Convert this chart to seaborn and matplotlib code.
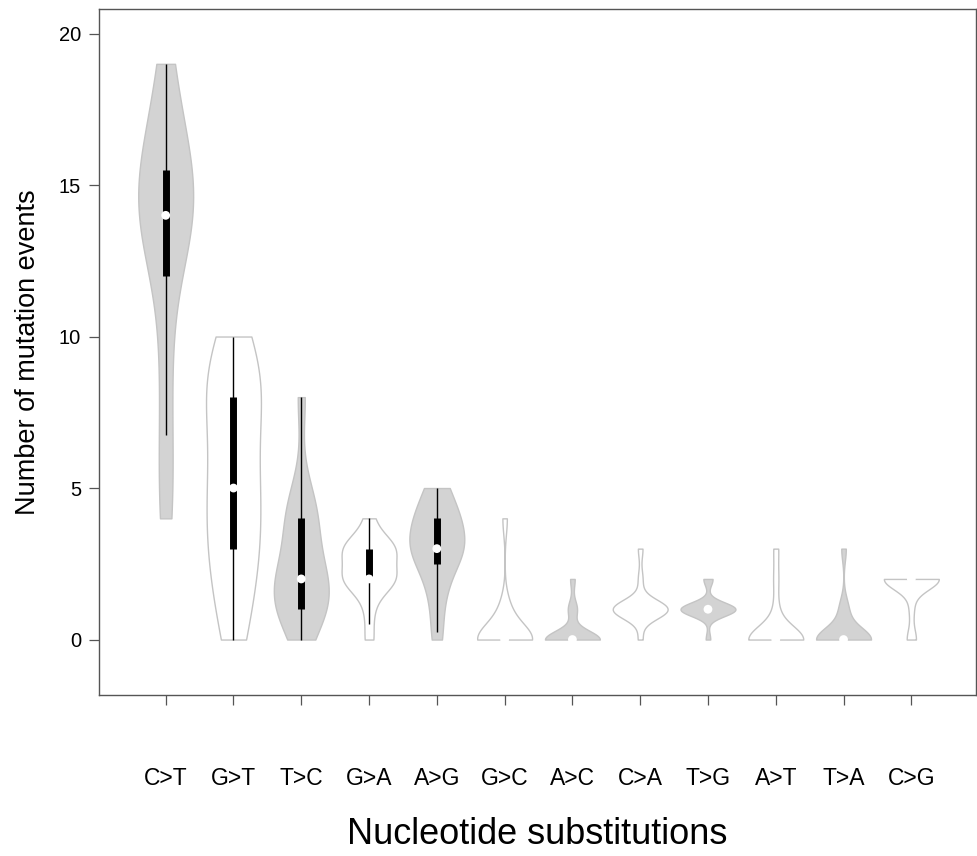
import numpy as np
import pandas as pd
import matplotlib
matplotlib.use("Agg")
import matplotlib.pyplot as plt
import seaborn as sns

# ---- data (counts of mutation events per sample, read/estimated from the figure) ----
categories = ["C>T", "G>T", "T>C", "G>A", "A>G", "G>C",
              "A>C", "C>A", "T>G", "A>T", "T>A", "C>G"]
ct_counts = [4, 5, 7, 9, 11, 13, 13, 14, 14, 14, 14, 15, 15, 15, 16, 16, 17, 18, 19]
gt_counts = [0, 1, 2, 3, 3, 4, 5, 5, 6, 7, 8, 8, 9, 9, 10]
tc_counts = [0, 1, 1, 1, 1, 2, 2, 2, 2, 3, 4, 4, 4, 5, 8]
ga_counts = [0, 1, 2, 2, 2, 2, 2, 2, 3, 3, 3, 3, 3, 3, 4]
ag_counts = [0, 1, 2, 2, 3, 3, 3, 3, 3, 4, 4, 4, 4, 5, 5]
gc_counts = [0, 0, 0, 0, 0, 0, 0, 0, 0, 0, 0, 0, 1, 1, 4]
ac_counts = [0, 0, 0, 0, 0, 0, 0, 0, 0, 0, 0, 0, 1, 1, 2]
ca_counts = [0, 1, 1, 1, 1, 1, 1, 1, 1, 1, 1, 1, 1, 2, 3]
tg_counts = [0, 1, 1, 1, 1, 1, 1, 1, 1, 1, 1, 1, 1, 2, 2]
at_counts = [0, 0, 0, 0, 0, 0, 0, 0, 0, 0, 0, 0, 1, 2, 3]
ta_counts = [0, 0, 0, 0, 0, 0, 0, 0, 0, 0, 0, 0, 1, 1, 3]
cg_counts = [0, 0, 1, 2, 2, 2, 2, 2, 2, 2, 2, 2, 2, 2, 2]
fill_colors = ["#d3d3d3", "#ffffff"] * 6
y_ticks = [0, 5, 10, 15, 20]

all_counts = [ct_counts, gt_counts, tc_counts, ga_counts, ag_counts, gc_counts,
              ac_counts, ca_counts, tg_counts, at_counts, ta_counts, cg_counts]
df = pd.DataFrame({
    "sub": np.repeat(categories, [len(c) for c in all_counts]),
    "n": np.concatenate(all_counts).astype(float),
})

sns.set_theme(style="white")
plt.rcParams["font.family"] = ["Liberation Sans", "DejaVu Sans"]

fig = plt.figure(figsize=(9.77, 8.56), dpi=100)
ax = fig.add_axes([0.1016, 0.1881, 0.8971, 0.8014])

sns.violinplot(data=df, x="sub", y="n", hue="sub", order=categories,
               hue_order=categories, palette=fill_colors, legend=False,
               inner=None, cut=0, density_norm="width", width=0.81,
               bw_adjust=0.85, linewidth=1.0, linecolor="#c4c4c4",
               saturation=1, ax=ax)

# inner box: whisker, IQR bar, median dot
for i, c in enumerate(all_counts):
    arr = np.asarray(c, dtype=float)
    q1, med, q3 = np.percentile(arr, [25, 50, 75])
    iqr = q3 - q1
    lo = max(q1 - 1.5 * iqr, arr.min())
    hi = min(q3 + 1.5 * iqr, arr.max())
    ax.plot([i, i], [lo, hi], color="black", lw=1.0, solid_capstyle="butt", zorder=3)
    ax.plot([i, i], [q1, q3], color="black", lw=5.0, solid_capstyle="butt", zorder=4)
    ax.scatter([i], [med], s=40, color="white", edgecolor="none", zorder=5)

ax.set_xlim(-0.98, 11.95)
ax.set_ylim(-1.83, 20.81)
ax.set_yticks(y_ticks)
ax.set_xticks(range(len(categories)))
ax.set_xticklabels(categories)

for s in ax.spines.values():
    s.set_visible(True)
    s.set_color("#555555")
    s.set_linewidth(1.0)

ax.tick_params(axis="x", which="major", bottom=True, length=7.2, width=0.9,
               color="#555555", pad=45, labelsize=16.5, labelcolor="black")
ax.tick_params(axis="y", which="major", left=True, length=7.2, width=0.9,
               color="#555555", pad=6, labelsize=14.5, labelcolor="black")

ax.set_xlabel("Nucleotide substitutions", fontsize=26, color="black")
ax.set_ylabel("Number of mutation events", fontsize=19.5, color="black")
ax.xaxis.set_label_coords(0.5, -0.178)
ax.yaxis.set_label_coords(-0.066, 0.5)

fig.savefig("out.png", dpi=100, facecolor="white")
